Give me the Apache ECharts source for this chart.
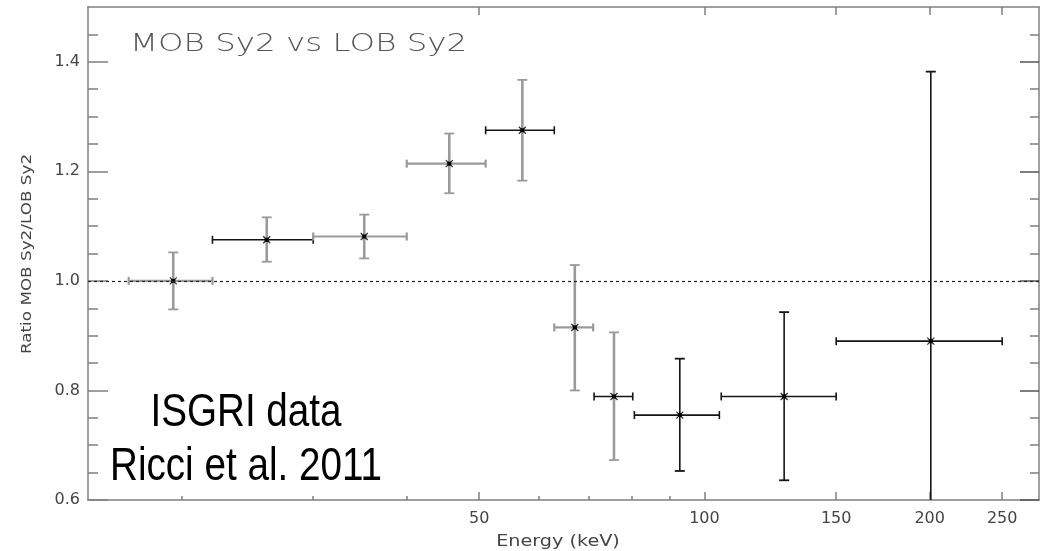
<!DOCTYPE html>
<html>
<head>
<meta charset="utf-8">
<script src="https://cdn.jsdelivr.net/npm/echarts@6/dist/echarts.min.js"></script>
<style>
html,body{margin:0;padding:0;background:#fff;}
#c{width:1047px;height:551px;}
</style>
</head>
<body>
<div id="c"></div>
<script>
// ---- data ----
var energy    = [19.5, 26.0, 35.1, 45.6, 57.1, 67.1, 75.7, 92.7, 127.8, 200.7];
var energyLow = [17.0, 22.0, 30.0, 40.0, 51.0, 63.0, 71.2, 80.6, 105.3, 150.0];
var energyHigh= [22.0, 30.0, 40.0, 51.0, 63.0, 71.0, 80.2, 104.7, 150.0, 250.0];
var ratio     = [1.000, 1.075, 1.081, 1.214, 1.275, 0.915, 0.789, 0.755, 0.789, 0.890];
var ratioLow  = [0.948, 1.035, 1.041, 1.160, 1.183, 0.800, 0.673, 0.653, 0.636, 0.400];
var ratioHigh = [1.052, 1.116, 1.121, 1.269, 1.367, 1.029, 0.906, 0.858, 0.943, 1.382];
var xMajorTicks = [50, 100, 150, 200, 250];
var xMinorTicks = [20, 30, 40, 60, 70, 80, 90];
var yMajorTicks = [0.6, 0.8, 1.0, 1.2, 1.4];
var yMinorTicks = [0.65, 0.7, 0.75, 0.85, 0.9, 0.95, 1.05, 1.1, 1.15, 1.25, 1.3, 1.35, 1.45];
var titleText = 'MOB Sy2 vs LOB Sy2';
var xTitle = 'Energy (keV)';
var yTitle = 'Ratio MOB Sy2/LOB Sy2';
var noteLines = ['ISGRI data', 'Ricci et al. 2011'];

// ---- styling ----
var GRAY = '#9a9a9a', DARK = '#151515';
var hShade = [GRAY, DARK, GRAY, GRAY, DARK, GRAY, DARK, DARK, DARK, DARK];
var vShade = [GRAY, GRAY, GRAY, GRAY, GRAY, GRAY, GRAY, DARK, DARK, DARK];

var rows = energy.map(function (e, i) {
  return [e, energyLow[i], energyHigh[i], ratio[i], ratioLow[i], ratioHigh[i], i];
});

var YMIN = 0.6, YMAX = 1.5, XMIN = 15, XMAX = 280;
var axisColor = '#808080';
var labelFont = {color: '#444', fontFamily: 'DejaVu Sans', fontSize: 16};

function renderItem(params, api) {
  var i = api.value(6);
  var c = api.coord([api.value(0), api.value(3)]);
  var l = api.coord([api.value(1), api.value(3)]);
  var r = api.coord([api.value(2), api.value(3)]);
  var yb = api.value(4), clipped = false;
  if (yb < YMIN) { yb = YMIN; clipped = true; }
  var b = api.coord([api.value(0), yb]);
  var t = api.coord([api.value(0), api.value(5)]);
  var hc = hShade[i], vc = vShade[i];
  var hw = hc === GRAY ? 2.2 : 1.6, vw = vc === GRAY ? 2.6 : 1.6;
  var ch = [];
  function seg(x1, y1, x2, y2, col, w) {
    ch.push({type: 'line', shape: {x1: x1, y1: y1, x2: x2, y2: y2},
      style: {stroke: col, lineWidth: w}});
  }
  seg(l[0], l[1], r[0], r[1], hc, hw);
  seg(l[0], l[1] - 4, l[0], l[1] + 4, hc, hw);
  seg(r[0], r[1] - 4, r[0], r[1] + 4, hc, hw);
  seg(t[0], t[1], b[0], b[1], vc, vw);
  seg(t[0] - 5, t[1], t[0] + 5, t[1], vc, 1.8);
  if (!clipped) seg(b[0] - 5, b[1], b[0] + 5, b[1], vc, 1.8);
  seg(c[0] - 3.5, c[1] - 3.5, c[0] + 3.5, c[1] + 3.5, '#333', 1.3);
  seg(c[0] - 3.5, c[1] + 3.5, c[0] + 3.5, c[1] - 3.5, '#333', 1.3);
  ch.push({type: 'rect', shape: {x: c[0] - 2, y: c[1] - 2, width: 4, height: 4}, style: {fill: '#000'}});
  return {type: 'group', children: ch};
}

var chart = echarts.init(document.getElementById('c'), null, {renderer: 'canvas'});
chart.setOption({
  animation: false,
  backgroundColor: '#fff',
  grid: {left: 88, right: 8, top: 7, bottom: 51, containLabel: false},
  xAxis: [
    {type: 'log', logBase: 10, min: XMIN, max: XMAX, position: 'bottom',
     axisLine: {show: true, lineStyle: {color: axisColor, width: 1.5}},
     axisTick: {show: true, inside: true, length: 8, customValues: xMajorTicks, lineStyle: {color: axisColor, width: 1.5}},
     axisLabel: Object.assign({show: true, customValues: xMajorTicks, margin: 11,
       formatter: function (v) { return String(Math.round(v)); }}, labelFont),
     splitLine: {show: false}, minorTick: {show: false}},
    {type: 'log', logBase: 10, min: XMIN, max: XMAX, position: 'bottom',
     axisLine: {show: false},
     axisTick: {show: true, inside: true, length: 4, customValues: xMinorTicks, lineStyle: {color: axisColor, width: 1.5}},
     axisLabel: {show: false}, splitLine: {show: false}},
    {type: 'log', logBase: 10, min: XMIN, max: XMAX, position: 'top',
     axisLine: {show: true, lineStyle: {color: axisColor, width: 1.5}},
     axisTick: {show: true, inside: true, length: 8, customValues: xMajorTicks, lineStyle: {color: axisColor, width: 1.5}},
     axisLabel: {show: false}, splitLine: {show: false}}
  ],
  yAxis: [
    {type: 'value', min: YMIN, max: YMAX, position: 'left',
     axisLine: {show: true, lineStyle: {color: axisColor, width: 1.5}},
     axisTick: {show: true, inside: true, length: 20, customValues: yMajorTicks, lineStyle: {color: axisColor, width: 1.5}},
     axisLabel: Object.assign({show: true, customValues: yMajorTicks, margin: 8,
       formatter: function (v) { return v.toFixed(1); }}, labelFont),
     splitLine: {show: false}},
    {type: 'value', min: YMIN, max: YMAX, position: 'left',
     axisLine: {show: false},
     axisTick: {show: true, inside: true, length: 10, customValues: yMinorTicks, lineStyle: {color: axisColor, width: 1.5}},
     axisLabel: {show: false}, splitLine: {show: false}},
    {type: 'value', min: YMIN, max: YMAX, position: 'right',
     axisLine: {show: true, lineStyle: {color: axisColor, width: 1.5}},
     axisTick: {show: true, inside: true, length: 19, customValues: yMajorTicks, lineStyle: {color: '#555', width: 1.5}},
     axisLabel: {show: false}, splitLine: {show: false}},
    {type: 'value', min: YMIN, max: YMAX, position: 'right',
     axisLine: {show: false},
     axisTick: {show: true, inside: true, length: 9, customValues: yMinorTicks, lineStyle: {color: axisColor, width: 1.5}},
     axisLabel: {show: false}, splitLine: {show: false}}
  ],
  graphic: [
    {type: 'text', x: 130, y: 44, z: 10, scaleX: 1.3,
     style: {text: titleText, fill: '#555', font: '200 25px "DejaVu Sans"', align: 'left', verticalAlign: 'middle'}},
    {type: 'text', x: 558, y: 542, z: 10, scaleX: 1.28,
     style: {text: xTitle, fill: '#444', font: '15px "DejaVu Sans"', align: 'center', verticalAlign: 'middle'}},
    {type: 'text', x: 27, y: 254, z: 10, rotation: Math.PI / 2, scaleX: 1.2,
     style: {text: yTitle, fill: '#444', font: '14px "DejaVu Sans"', align: 'center', verticalAlign: 'middle'}},
    {type: 'text', x: 246, y: 413, z: 10, scaleX: 0.84,
     style: {text: noteLines[0], fill: '#000', font: '46px "Liberation Sans", Arial, sans-serif', align: 'center', verticalAlign: 'middle'}},
    {type: 'text', x: 246, y: 467, z: 10, scaleX: 0.84,
     style: {text: noteLines[1], fill: '#000', font: '46px "Liberation Sans", Arial, sans-serif', align: 'center', verticalAlign: 'middle'}}
  ],
  series: [
    {type: 'custom', xAxisIndex: 0, yAxisIndex: 0, renderItem: renderItem, data: rows,
     encode: {x: [0, 1, 2], y: [3, 4, 5]}, clip: false, z: 3,
     markLine: {silent: true, symbol: 'none', label: {show: false},
       lineStyle: {type: [3, 3], color: '#222', width: 1.2},
       data: [{yAxis: 1.0}]}}
  ]
});
</script>
</body>
</html>
